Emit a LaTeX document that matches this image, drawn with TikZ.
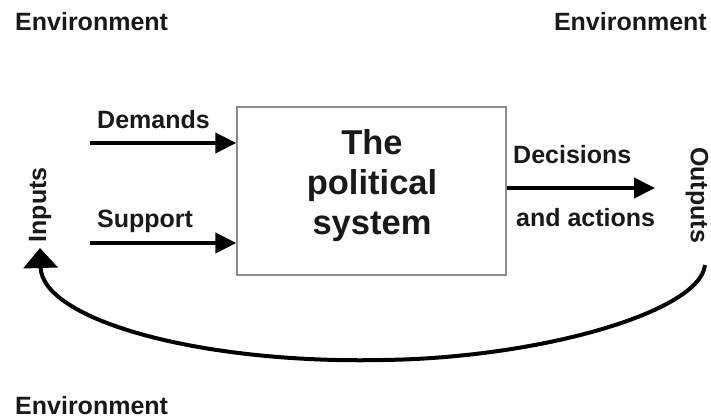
\documentclass[tikz,border=0pt]{standalone}
\usepackage{fontspec}
\setmainfont{Liberation Sans}
\usetikzlibrary{arrows.meta}
\begin{document}
\begin{tikzpicture}[x=1pt,y=-1pt,
  lbl/.style={font=\fontsize{25}{30}\selectfont\bfseries, inner sep=0pt, text=black!90},
  bigtxt/.style={font=\fontsize{34.5}{40}\selectfont\bfseries, align=center, inner sep=0pt, text=black!90},
  flow/.style={line width=4pt, -{Triangle[width=20pt,length=21pt]}},
  sysbox/.style={draw=black!45, line width=1.3pt, minimum width=269pt, minimum height=168pt, inner sep=0pt}
]
\useasboundingbox (0,0) rectangle (711,419);
% environment labels
\node[lbl, anchor=base west] (env1) at (15,31) {Environment};
\node[lbl, anchor=base east] (env2) at (707,31) {Environment};
\node[lbl, anchor=south west] (env3) at (15,415) {Environment};
% system box
\node[sysbox] (sys) at (371.5,191) {};
\node[bigtxt] (systxt) at (372,186) {The\\political\\system};
% inputs
\node[lbl, anchor=base west] (dem) at (97,129) {Demands};
\node[lbl, anchor=base west] (sup) at (97,228) {Support};
\coordinate (dstart) at (90,143);
\coordinate (sstart) at (90,243);
\draw[flow] (dstart) -- (sys.west |- dstart);
\draw[flow] (sstart) -- (sys.west |- sstart);
% outputs
\node[lbl, anchor=base west] (dec) at (513,164) {Decisions};
\node[lbl, anchor=base west] (act) at (516,227) {and actions};
\coordinate (oend) at (655,188);
\draw[flow] (sys.east |- oend) -- (oend);
% side labels
\node[lbl, rotate=90] (inp) at (40,205) {Inputs};
\node[lbl, rotate=-90] (outp) at (697,195) {Outputs};
% feedback loop
\coordinate (fstart) at (705,265);
\coordinate (fmid) at (383,360);
\coordinate (fend) at (40,248);
\draw[line width=4pt, -{Triangle[width=34pt,length=20pt]}]
  (fstart) .. controls (700,312) and (540,358) .. (fmid)
  .. controls (200,364) and (42,320) .. (fend);
\end{tikzpicture}
\end{document}
